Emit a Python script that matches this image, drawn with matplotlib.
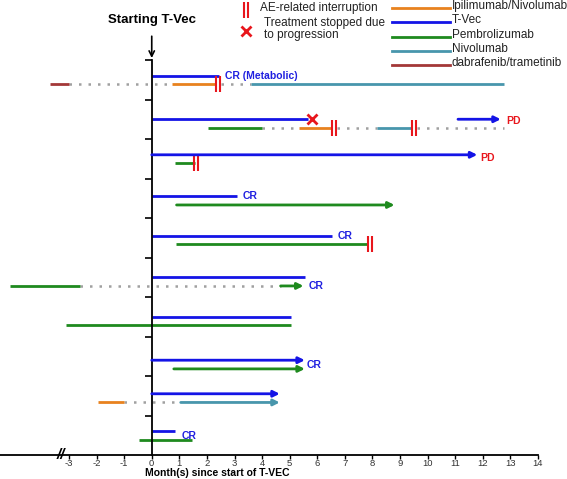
import matplotlib.pyplot as plt
import matplotlib.lines as mlines
from matplotlib.path import Path

plt.rcParams['font.family'] = ['Liberation Sans', 'DejaVu Sans']

# drugs and colours
drug_names = ['Ipilimumab/Nivolumab', 'T-Vec', 'Pembrolizumab', 'Nivolumab', 'dabrafenib/trametinib']
drug_colors = ['#e8821e', '#1414e6', '#1e8a1e', '#4896ac', '#a33838']
colors = dict(zip(drug_names, drug_colors))

# one row per patient (T-Vec line on top, other therapy just below)
tvec_y = [9.6, 8.5, 7.6, 6.55, 5.55, 4.5, 3.5, 2.4, 1.55, 0.6]
other_offset = 0.22

tvec_end = [2.43, 5.65, 11.8, 3.08, 6.52, 5.54, 5.03, 5.55, 4.64, 0.85]
tvec_arrow = [False, False, True, False, False, False, False, True, True, False]

# T-Vec re-start: (patient, start, end)
tvec_restart = [(1, 11.1, 12.65)]

# other therapy: (patient, drug, start, end, ongoing)
other_segments = [
    (0, 'dabrafenib/trametinib', -3.7, -3.0, False),
    (0, 'Ipilimumab/Nivolumab', 0.72, 2.28, False),
    (0, 'Nivolumab', 3.6, 12.75, False),
    (1, 'Pembrolizumab', 2.03, 4.0, False),
    (1, 'Ipilimumab/Nivolumab', 5.33, 6.52, False),
    (1, 'Nivolumab', 8.15, 9.42, False),
    (2, 'Pembrolizumab', 0.83, 1.56, False),
    (3, 'Pembrolizumab', 0.9, 8.8, True),
    (4, 'Pembrolizumab', 0.87, 7.8, False),
    (5, 'Pembrolizumab', -5.14, -2.6, False),
    (5, 'Pembrolizumab', 4.67, 5.5, True),
    (6, 'Pembrolizumab', -3.1, 5.03, False),
    (7, 'Pembrolizumab', 0.8, 5.55, True),
    (8, 'Ipilimumab/Nivolumab', -1.96, -1.0, False),
    (8, 'Nivolumab', 1.05, 4.64, True),
    (9, 'Pembrolizumab', -0.47, 1.47, False),
]

# gaps without therapy (dotted): (patient, start, end)
gaps = [(0, -3.0, 0.72), (0, 2.5, 3.6), (1, 4.0, 5.33), (1, 6.7, 8.15),
        (1, 9.6, 12.75), (5, -2.6, 4.67), (8, -1.0, 1.05)]

# AE-related interruptions on the lower line: (patient, month)
interruptions = [(0, 2.4), (1, 6.6), (1, 9.5), (2, 1.6), (4, 7.9)]
# stopped due to progression: (patient, month)
progression = [(1, 5.8)]

# response labels: (patient, text, month, vertical shift)
outcomes = [(0, 'CR (Metabolic)', 2.65, 0.0), (1, 'PD', 12.86, -0.05),
            (2, 'PD', 11.9, -0.08), (3, 'CR', 3.3, 0.0), (4, 'CR', 6.74, 0.0),
            (5, 'CR', 5.69, -0.22), (7, 'CR', 5.6, -0.12), (9, 'CR', 1.09, -0.12)]

month_ticks = list(range(-3, 15))

ae_marker = Path([(-0.22, -1), (-0.22, 1), (0.22, -1), (0.22, 1)],
                 [Path.MOVETO, Path.LINETO, Path.MOVETO, Path.LINETO])
red = '#e8161c'

fig = plt.figure(figsize=(5.67, 4.79), dpi=100)
ax = fig.add_axes([0, 24 / 479, 538 / 567, 395 / 479])
ax.set_xlim(-5.5, 14)
ax.set_ylim(0, 10)


def seg(x0, x1, y, color, arrow):
    if arrow:
        ax.annotate('', xy=(x1, y), xytext=(x0, y),
                    arrowprops=dict(arrowstyle='-|>', color=color, lw=2,
                                    mutation_scale=9, shrinkA=0, shrinkB=0))
    else:
        ax.plot([x0, x1], [y, y], color=color, lw=2, solid_capstyle='butt')


for y, end, arr in zip(tvec_y, tvec_end, tvec_arrow):
    seg(0, end, y, colors['T-Vec'], arr)
for p, x0, x1 in tvec_restart:
    seg(x0, x1, tvec_y[p], colors['T-Vec'], True)

for p, x0, x1 in gaps:
    ax.plot([x0, x1], [tvec_y[p] - other_offset] * 2, color='#a0a0a0', lw=1.8,
            linestyle=(0, (1, 2.8)))

for p, drug, x0, x1, arr in other_segments:
    seg(x0, x1, tvec_y[p] - other_offset, colors[drug], arr)

for p, x in interruptions:
    ax.plot(x, tvec_y[p] - other_offset, marker=ae_marker, ms=11, mew=1.5,
            color=red, linestyle='none')
for p, x in progression:
    ax.plot(x, tvec_y[p], marker='x', ms=6.5, mew=2, color=red, linestyle='none')

for p, txt, x, dy in outcomes:
    ax.text(x, tvec_y[p] + dy, txt, color=red if txt == 'PD' else '#2020e0',
            fontsize=7.5, fontweight='bold', ha='left', va='center')

# axes
for s in ['top', 'right']:
    ax.spines[s].set_visible(False)
ax.spines['left'].set_position(('data', 0))
ax.spines['left'].set_linewidth(1.3)
ax.spines['bottom'].set_linewidth(1.3)
ax.set_yticks(range(1, 11))
ax.set_yticklabels([])
ax.tick_params(axis='y', direction='out', length=5, width=1.2)
ax.set_xticks(month_ticks)
ax.set_xticklabels([str(t) for t in month_ticks])
ax.tick_params(axis='x', direction='out', length=3, width=1, labelsize=6.8,
               pad=0, labelcolor='#333333')
ax.text(-3.3, 0, '//', fontsize=11, fontweight='bold', fontstyle='italic',
        ha='center', va='center', clip_on=False)
fig.text(217 / 567, 1.5 / 479, 'Month(s) since start of T-VEC', fontsize=7.5,
         fontweight='bold', ha='center', va='bottom')

ax.annotate('Starting T-Vec', xy=(0, 10.05), xytext=(0, 11.0), ha='center',
            va='center', fontsize=9.5, fontweight='bold', annotation_clip=False,
            arrowprops=dict(arrowstyle='->', color='black', lw=1.2, shrinkA=5, shrinkB=0))

# legend
fig.add_artist(mlines.Line2D([246 / 567], [1 - 10 / 479], marker=ae_marker, ms=11,
                             mew=1.5, color=red, linestyle='none'))
fig.text(260 / 567, 1 - 8 / 479, 'AE-related interruption', fontsize=8.5,
         va='center', color='#222222')
fig.add_artist(mlines.Line2D([246 / 567], [1 - 31 / 479], marker='x', ms=6.5,
                             mew=2, color=red, linestyle='none'))
fig.text(264 / 567, 1 - 29 / 479, 'Treatment stopped due\nto progression',
         fontsize=8.5, va='center', color='#222222', linespacing=1.0)
for i, name in enumerate(drug_names):
    yy = 1 - (8 + i * 14.3) / 479
    fig.add_artist(mlines.Line2D([392 / 567, 450 / 567], [yy, yy],
                                 color=colors[name], lw=2))
    fig.text(452 / 567, yy + 0.004, name, fontsize=8.5, va='center', color='#222222')

fig.savefig('out.png', dpi=100)
